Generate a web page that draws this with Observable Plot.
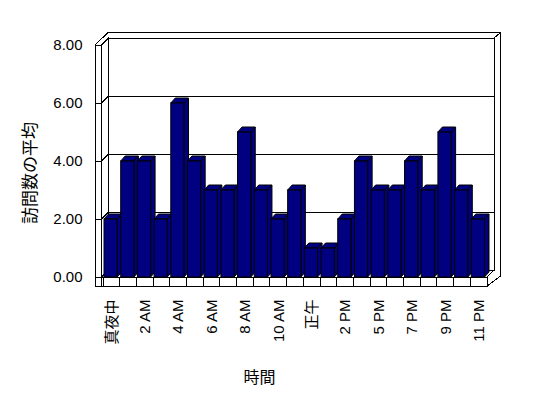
<!DOCTYPE html>
<html><head><meta charset="utf-8">
<script src="https://cdn.jsdelivr.net/npm/d3@7"></script>
<script src="https://cdn.jsdelivr.net/npm/@observablehq/plot@0.6"></script>
<style>body{margin:0;background:#fff;}</style>
</head><body><div id="chart"></div>
<script>
// ---- data ----
const hours = ["真夜中","1 AM","2 AM","3 AM","4 AM","5 AM","6 AM","7 AM","8 AM","9 AM","10 AM","11 AM",
               "正午","1 PM","2 PM","3 PM","5 PM","6 PM","7 PM","8 PM","9 PM","10 PM","11 PM"];
const visits = [2,4,4,2,6,4,3,3,5,3,2,3,1,1,2,4,3,3,4,3,5,3,2];
const yTicks = [0,2,4,6,8];
const yTitle = "訪問数の平均";
const xTitle = "時間";
const data = hours.map((h,i)=>({hour:h, value:visits[i]}));

// ---- layout constants ----
const W = 548, H = 398, ML = 103, MR = 61, MT = 45, MB = 121;
const STEP = (W - ML - MR) / hours.length;
const INSET_L = 1, BAR_W = 13.2, INSET_R = STEP - INSET_L - BAR_W;
const BDX = 4.5, BDY = -5;     // bar depth
const WDX = 7, WDY = -7;       // wall depth
const NAVY = "#000080";

function poly(g, pts, fill){
  g.append("path").attr("d", "M" + pts.map(p=>p.join(",")).join("L") + "Z")
   .attr("fill", fill).attr("stroke", "black").attr("stroke-width", 1);
}
function line(g, a, b){
  g.append("line").attr("x1",a[0]).attr("y1",a[1]).attr("x2",b[0]).attr("y2",b[1])
   .attr("stroke","black").attr("stroke-width",1);
}

// 3D walls & floor, drawn from the plot's scales
function walls(index, scales){
  const X = scales.x, Y = scales.y;
  const [x0, x1] = X.range();
  const yTop = Y(d3.max(yTicks)), y0 = Y(0), yFloor = y0 + 9;
  const Lout = x0 - 8, Lin = x0 - 1.5;
  const bx0 = Lin + WDX, bx1 = x1 + WDX, by0 = yTop + WDY, by1 = y0 + WDY;
  const oy = by0 - 5.5, ox = bx1 + 6.5, oxL = Lout + 13;
  const g = d3.create("svg:g").attr("shape-rendering","crispEdges");
  poly(g, [[Lout,yTop],[oxL,oy],[ox,oy],[ox,y0-1],[x1,yFloor],[Lout,yFloor]], "white");
  poly(g, [[bx0,by0],[bx1,by0],[bx1,by1],[bx0,by1]], "white");
  line(g, [bx1,by0], [ox,oy]);
  poly(g, [[Lout,yTop],[Lin,yTop],[Lin,yFloor],[Lout,yFloor]], "white");
  poly(g, [[Lin,yTop],[bx0,by0],[bx0,by1],[Lin,y0]], "white");
  poly(g, [[Lin,y0],[x1,y0],[bx1,by1],[bx0,by1]], "white");
  poly(g, [[Lin,y0],[x1,y0],[x1,yFloor],[Lin,yFloor]], "white");
  line(g, [x1,yFloor], [ox,y0-1]);
  for (const h of X.domain()) line(g, [X(h), y0], [X(h), yFloor]);
  for (const v of yTicks) {
    const y = Y(v);
    line(g, [Lout,y], [Lin,y]);
    if (v > 0 && v < d3.max(yTicks)) {
      line(g, [Lin,y], [bx0,y+WDY]);
      line(g, [bx0,y+WDY], [bx1,y+WDY]);
    }
  }
  return g.node();
}

// bar tops and sides (depth faces)
function barDepth(index, scales){
  const X = scales.x, Y = scales.y;
  const g = d3.create("svg:g").attr("stroke-linejoin","miter");
  data.forEach(d => {
    const xl = X(d.hour) + INSET_L, xr = X(d.hour) + X.bandwidth() - INSET_R;
    const yt = Y(d.value), yb = Y(0);
    poly(g, [[xr,yt],[xr+BDX,yt+BDY],[xr+BDX,yb+BDY],[xr,yb]], NAVY);
    poly(g, [[xl,yt],[xl+BDX,yt+BDY],[xr+BDX,yt+BDY],[xr,yt]], NAVY);
  });
  return g.node();
}

const chart = Plot.plot({
  width: W, height: H,
  marginLeft: ML, marginRight: MR, marginTop: MT, marginBottom: MB,
  style: {fontFamily: "'Liberation Sans', 'Noto Sans CJK JP', sans-serif", fontSize: "15px", background: "white", color: "black"},
  x: {type: "band", domain: hours, padding: 0, round: false, tickSize: 0, tickPadding: 22, tickRotate: -90,
      tickFormat: d => hours.indexOf(d) % 2 === 0 ? d : "", label: null},
  y: {domain: [0, d3.max(yTicks)], ticks: yTicks, tickFormat: d3.format(".2f"), tickSize: 0, tickPadding: 21, label: null},
  marks: [
    walls,
    barDepth,
    Plot.barY(data, {x: "hour", y: "value", fill: NAVY, stroke: "black", strokeWidth: 1,
                     insetLeft: INSET_L, insetRight: INSET_R}),
    Plot.text([yTitle], {frameAnchor: "left", rotate: -90, dx: -72.5, dy: 11.5, fontSize: 17,
                         textAnchor: "middle", lineAnchor: "middle", fontFamily: "'Noto Sans CJK JP', sans-serif"}),
    Plot.text([xTitle], {frameAnchor: "bottom", dx: -36, dy: 100, fontSize: 16,
                         textAnchor: "middle", lineAnchor: "middle", fontFamily: "'Noto Sans CJK JP', sans-serif"})
  ]
});
document.getElementById("chart").appendChild(chart);
</script>
</body></html>
